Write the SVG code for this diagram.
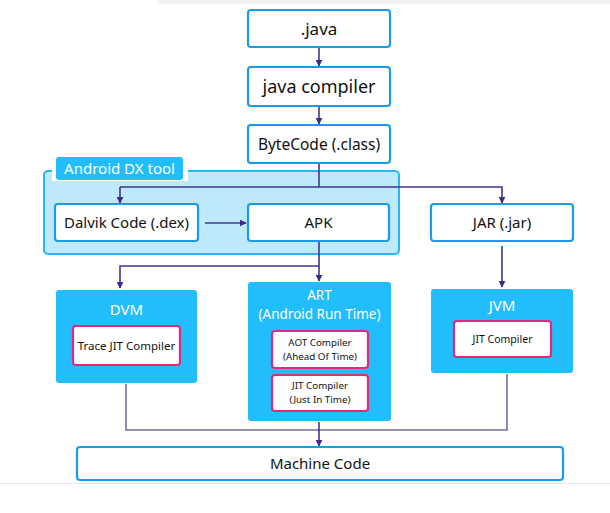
<svg xmlns="http://www.w3.org/2000/svg" width="610" height="513" viewBox="0 0 610 513">
<defs>
<style>
.box{fill:#fff;stroke:#1a9be8;stroke-width:2.2}
.vm{fill:#22bdfd;stroke:none}
.inner{fill:#fff;stroke:#e0287c;stroke-width:2.2}
.t{font-family:"Noto Sans",sans-serif;fill:#111;text-anchor:middle}
.w{font-family:"Noto Sans",sans-serif;fill:#fff;text-anchor:middle}
.c{fill:none;stroke:#43358f;stroke-width:1.6}
.c2{fill:none;stroke:#7a6aa8;stroke-width:1.6}
</style>
<marker id="ah" viewBox="0 0 10 10" refX="9" refY="5" markerWidth="7" markerHeight="7" markerUnits="userSpaceOnUse" orient="auto">
<path d="M0,0 L10,5 L0,10 z" fill="#3b2c8a"/>
</marker>
</defs>
<rect width="610" height="513" fill="#fff"/>
<rect x="158" y="0" width="452" height="4" fill="#f1f1f3"/>
<rect x="0" y="483" width="610" height="1" fill="#e4e4ea"/>

<g id="dx-tool">
<rect x="44" y="171" width="355" height="83" rx="4" fill="#bde9fb" stroke="#2bb4f2" stroke-width="2"/>
<rect x="52" y="156" width="136" height="25" fill="#fff"/>
<rect x="56" y="157" width="127" height="23" rx="3" fill="#22bdfd"/>
<text class="w" x="119.5" y="174" font-size="15">Android DX tool</text>
</g>

<g id="connectors">
<line class="c" x1="319" y1="48" x2="319" y2="66" marker-end="url(#ah)"/>
<line class="c" x1="319" y1="107" x2="319" y2="124" marker-end="url(#ah)"/>
<polyline class="c" points="319,164 319,187"/>
<polyline class="c" points="120,187 502,187 502,203" marker-end="url(#ah)"/>
<line class="c" x1="120" y1="187" x2="120" y2="203" marker-end="url(#ah)"/>
<line class="c" x1="205" y1="223" x2="246" y2="223" marker-end="url(#ah)"/>
<polyline class="c" points="319,242 319,266 120,266 120,288" marker-end="url(#ah)"/>
<line class="c" x1="319" y1="266" x2="319" y2="281" marker-end="url(#ah)"/>
<line class="c" x1="502" y1="246" x2="502" y2="287" marker-end="url(#ah)"/>
<polyline class="c2" points="126,384 126,430 507,430 507,374"/>
<line class="c" x1="319" y1="422" x2="319" y2="446" marker-end="url(#ah)"/>
</g>

<g id="java">
<rect class="box" x="248" y="10" width="142" height="37" rx="3"/>
<text class="t" x="319" y="35" font-size="17">.java</text>
</g>
<g id="java-compiler">
<rect class="box" x="248" y="67" width="142" height="39" rx="3"/>
<text class="t" x="319" y="93" font-size="18">java compiler</text>
</g>
<g id="bytecode">
<rect class="box" x="248" y="125" width="142" height="38" rx="3"/>
<text class="t" x="319" y="150" font-size="15.5">ByteCode (.class)</text>
</g>
<g id="dalvik">
<rect class="box" x="55" y="204" width="143" height="37" rx="3"/>
<text class="t" x="126.5" y="228" font-size="15">Dalvik Code (.dex)</text>
</g>
<g id="apk">
<rect class="box" x="248" y="204" width="141" height="37" rx="3"/>
<text class="t" x="318.5" y="228" font-size="15">APK</text>
</g>
<g id="jar">
<rect class="box" x="431" y="204" width="142" height="37" rx="3"/>
<text class="t" x="502" y="228" font-size="15">JAR (.jar)</text>
</g>

<g id="dvm">
<rect class="vm" x="56" y="290" width="141" height="93" rx="3"/>
<text class="w" x="126.5" y="315" font-size="15">DVM</text>
<rect class="inner" x="73" y="326" width="107" height="39" rx="3"/>
<text class="t" x="126.5" y="350" font-size="11.5">Trace JIT Compiler</text>
</g>
<g id="art">
<rect class="vm" x="248" y="282" width="143" height="139" rx="3"/>
<text class="w" x="319.5" y="299.5" font-size="13.5">ART</text>
<text class="w" x="319.5" y="318.5" font-size="13.5">(Android Run Time)</text>
<rect class="inner" x="272" y="331" width="96" height="37" rx="3"/>
<text class="t" x="320" y="345.5" font-size="9.8">AOT Compiler</text>
<text class="t" x="320" y="359.5" font-size="9.8">(Ahead Of Time)</text>
<rect class="inner" x="272" y="375" width="96" height="36" rx="3"/>
<text class="t" x="320" y="389" font-size="9.8">JIT Compiler</text>
<text class="t" x="320" y="403" font-size="9.8">(Just In Time)</text>
</g>
<g id="jvm">
<rect class="vm" x="431" y="289" width="142" height="84" rx="3"/>
<text class="w" x="502" y="311" font-size="15">JVM</text>
<rect class="inner" x="454" y="321" width="97" height="36" rx="3"/>
<text class="t" x="502.5" y="343" font-size="10.5">JIT Compiler</text>
</g>

<g id="machine-code">
<rect class="box" x="77" y="447" width="486" height="33" rx="3"/>
<text class="t" x="320" y="469" font-size="15">Machine Code</text>
</g>
</svg>
